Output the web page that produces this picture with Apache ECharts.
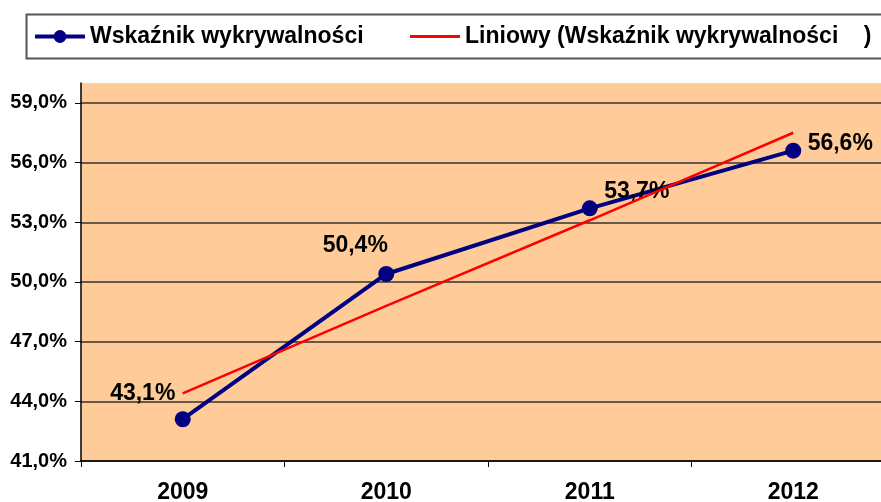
<!DOCTYPE html>
<html>
<head>
<meta charset="utf-8">
<script src="https://cdn.jsdelivr.net/npm/echarts@6/dist/echarts.min.js"></script>
<style>
html, body { margin: 0; padding: 0; background: #fff; }
#chart { width: 881px; height: 502px; }
</style>
</head>
<body>
<div id="chart"></div>
<script>
// dane z wykresu
var years = ['2009', '2010', '2011', '2012'];
var wskaznik = [43.1, 50.4, 53.7, 56.6];
var liniowy = [44.4, 48.8, 53.1, 57.5];
var yTicks = [41, 44, 47, 50, 53, 56, 59];

var nameMain = 'Wskaźnik wykrywalności';
var nameTrend = 'Liniowy (Wskaźnik wykrywalności    )';

// przesunięcia etykiet danych
var labelOffsets = [[-40, -26], [-31, -28], [47, -17], [47, -7]];

function pct(v) {
	return v.toFixed(1).replace('.', ',') + '%';
}

function renderChart() {
	var myChart = echarts.init(document.getElementById('chart'));
	var mainData = [];
	for (var i = 0; i < wskaznik.length; i++) {
		mainData.push({
			value: wskaznik[i],
			label: { offset: labelOffsets[i] }
		});
	}
	var font = 'Liberation Sans, Arial, sans-serif';
	var option = {
		animation: false,
		textStyle: { fontFamily: font },
		graphic: [{
			type: 'rect',
			left: 24,
			top: 12,
			shape: { width: 900, height: 44 },
			style: { fill: 'none', stroke: '#555', lineWidth: 2 },
			z: 0
		}],
		legend: {
			left: 33,
			top: 25,
			padding: 0,
			itemWidth: 50,
			itemHeight: 16,
			itemGap: 45,
			textStyle: { fontSize: 23, fontWeight: 'bold', color: '#000', fontFamily: font },
			data: [
				{ name: nameMain, lineStyle: { width: 4 } },
				{ name: nameTrend, lineStyle: { width: 3 }, itemStyle: { opacity: 0 } }
			]
		},
		grid: {
			left: 81,
			top: 83,
			width: 814,
			bottom: 41,
			outerBoundsMode: 'none',
			show: true,
			backgroundColor: '#FFCC99',
			borderWidth: 0
		},
		xAxis: {
			type: 'category',
			data: years,
			boundaryGap: true,
			axisLine: { lineStyle: { color: '#000', width: 1.5 } },
			axisTick: { show: true, length: 6, lineStyle: { color: '#000' } },
			axisLabel: { margin: 20, fontSize: 23, fontWeight: 'bold', color: '#000', fontFamily: font },
			splitLine: { show: false }
		},
		yAxis: {
			type: 'value',
			min: 41,
			max: 60,
			interval: 3,
			axisLine: { show: true, lineStyle: { color: '#000', width: 1.5 } },
			axisTick: { show: true, length: 6, customValues: yTicks, lineStyle: { color: '#000' } },
			axisLabel: {
				customValues: yTicks,
				margin: 14,
				fontSize: 20,
				fontWeight: 'bold',
				color: '#000',
				fontFamily: font,
				formatter: function(v) { return pct(v); }
			},
			splitLine: {
				show: true,
				lineStyle: { color: ['#333', '#333', '#333', '#333', '#333', '#333', '#333', '#aaa'], width: 1.5 }
			}
		},
		series: [{
			name: nameMain,
			type: 'line',
			data: mainData,
			symbol: 'circle',
			symbolSize: 16,
			lineStyle: { color: '#000080', width: 4 },
			itemStyle: { color: '#000080' },
			label: {
				show: true,
				position: 'inside',
				fontSize: 23,
				fontWeight: 'bold',
				color: '#000',
				fontFamily: font,
				formatter: function(p) { return pct(p.value); }
			},
			z: 2
		}, {
			name: nameTrend,
			type: 'line',
			data: liniowy,
			symbol: 'none',
			lineStyle: { color: '#FF0000', width: 2.5 },
			itemStyle: { color: '#FF0000' },
			z: 3
		}]
	};
	myChart.setOption(option);
}

renderChart();
</script>
</body>
</html>
